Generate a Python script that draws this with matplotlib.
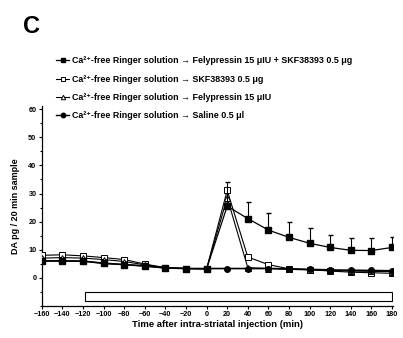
import matplotlib.pyplot as plt
from matplotlib.lines import Line2D
from matplotlib.patches import Rectangle
from matplotlib.ticker import MultipleLocator

plt.rcParams['font.family'] = ['Liberation Sans', 'DejaVu Sans']
plt.rcParams['font.weight'] = 'bold'

time = list(range(-160, 181, 20))

# Felypressin 15 uIU + SKF38393 0.5 ug
fely_skf = [6.0, 6.0, 6.0, 5.1, 4.7, 4.2, 3.5, 3.3, 3.2, 25.5, 21.1, 17.0, 14.4, 12.3, 10.8, 9.8, 9.7, 10.8]
fely_skf_err = [0.3, 0.3, 0.3, 0.3, 0.3, 0.3, 0.3, 0.3, 0.3, 8.5, 5.9, 5.9, 5.6, 5.3, 4.3, 4.2, 4.6, 3.9]
# SKF38393 0.5 ug
skf = [8.0, 8.2, 7.8, 7.2, 6.5, 4.9, 3.6, 3.3, 3.2, 31.1, 7.4, 4.7, 3.2, 2.9, 2.4, 2.0, 1.8, 1.6]
# Felypressin 15 uIU
fely = [7.0, 7.2, 7.0, 6.5, 5.8, 4.6, 3.6, 3.3, 3.2, 28.5, 3.6, 3.3, 3.0, 2.8, 2.6, 2.4, 2.3, 2.2]
# Saline 0.5 ul
saline = [6.0, 6.0, 5.9, 5.2, 4.7, 4.2, 3.5, 3.3, 3.3, 3.3, 3.3, 3.3, 3.2, 3.0, 2.8, 2.7, 2.6, 2.5]

labels = [
    'Ca\u00b2\u207a-free Ringer solution \u2192 Felypressin 15 \u03bcIU + SKF38393 0.5 \u03bcg',
    'Ca\u00b2\u207a-free Ringer solution \u2192 SKF38393 0.5 \u03bcg',
    'Ca\u00b2\u207a-free Ringer solution \u2192 Felypressin 15 \u03bcIU',
    'Ca\u00b2\u207a-free Ringer solution \u2192 Saline 0.5 \u03bcl',
]

fig = plt.figure(figsize=(4.03, 3.38), dpi=100)
ax = fig.add_axes([0.104, 0.095, 0.871, 0.59])

ms = 4
ax.errorbar(time, fely_skf, yerr=[[0] * len(time), fely_skf_err], color='black',
            lw=0.9, marker='s', ms=ms, mfc='black', capsize=1.8, elinewidth=0.8, zorder=4)
ax.plot(time, skf, color='black', lw=0.8, marker='s', ms=ms, mfc='white', mew=0.7, zorder=3)
ax.plot(time, fely, color='black', lw=0.8, marker='^', ms=ms, mfc='white', mew=0.7, zorder=3)
ax.plot(time, saline, color='black', lw=1.2, marker='o', ms=ms, mfc='black', zorder=5)

ax.add_patch(Rectangle((-118, -8.4), 298, 3.4, facecolor='white', edgecolor='black', lw=0.8))

ax.set_xlim(-160, 181)
ax.set_ylim(-10, 61)
ax.set_xticks(range(-160, 181, 20))
ax.set_yticks(range(0, 61, 10))
ax.yaxis.set_minor_locator(MultipleLocator(5))
ax.tick_params(labelsize=5.2, length=2.5, width=0.8, pad=1.5)
ax.tick_params(which='minor', length=1.5, width=0.8)
for s in ['top', 'right']:
    ax.spines[s].set_visible(False)
for s in ['left', 'bottom']:
    ax.spines[s].set_linewidth(0.9)

ax.set_xlabel('Time after intra-striatal injection (min)', fontsize=6.8, fontweight='bold', labelpad=1)
ax.set_ylabel('DA pg / 20 min sample', fontsize=6.5, fontweight='bold', labelpad=6)

lms = 3.2
handles = [
    Line2D([], [], color='black', lw=0.9, marker='s', ms=lms, mfc='black'),
    Line2D([], [], color='black', lw=0.8, marker='s', ms=lms, mfc='white', mew=0.7),
    Line2D([], [], color='black', lw=0.8, marker='^', ms=lms, mfc='white', mew=0.7),
    Line2D([], [], color='black', lw=1.0, marker='o', ms=lms, mfc='black'),
]
fig.legend(handles, labels, loc='upper left', bbox_to_anchor=(0.128, 0.846),
           frameon=False, fontsize=6.4, handlelength=1.5, handletextpad=0.25,
           labelspacing=1.05, borderpad=0)

fig.text(0.057, 0.955, 'C', fontsize=17, fontweight='bold', va='top')

fig.savefig('out.png', dpi=100)
